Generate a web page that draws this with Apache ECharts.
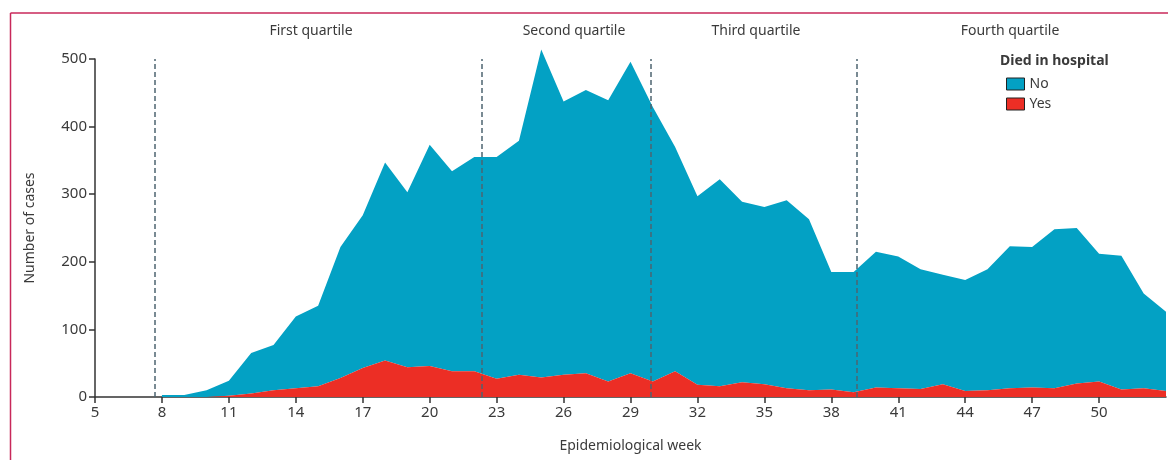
<!DOCTYPE html>
<html>
<head>
<meta charset="utf-8">
<script src="https://cdn.jsdelivr.net/npm/echarts@6/dist/echarts.min.js"></script>
<style>
  html,body{margin:0;padding:0;background:#fff;}
  #chart{width:1168px;height:460px;}
</style>
</head>
<body>
<div id="chart"></div>
<script>
// axis weeks (5..53) and the weeks that have data
let axisWeeks=[5,6,7,8,9,10,11,12,13,14,15,16,17,18,19,20,21,22,23,24,25,26,27,28,29,30,31,32,33,34,35,36,37,38,39,40,41,42,43,44,45,46,47,48,49,50,51,52,53];
let weeks=[8,9,10,11,12,13,14,15,16,17,18,19,20,21,22,23,24,25,26,27,28,29,30,31,32,33,34,35,36,37,38,39,40,41,42,43,44,45,46,47,48,49,50,51,52,53];
// died in hospital: yes
let diedYes=[0,0,0,2,5,10,13,16,28,43,54,44,46,38,38,27,33,29,33,35,23,35,23,38,18,16,22,19,13,10,11,7,14,13,12,19,9,10,13,14,13,20,23,11,13,9];
// died in hospital: no (stacked on top of yes)
let diedNo=[3,3,10,22,60,67,106,119,194,226,293,259,327,296,317,328,346,485,404,419,416,461,406,332,279,306,267,262,278,253,174,178,201,195,177,162,164,179,210,208,235,230,189,198,140,117];
let xTicks=[5,8,11,14,17,20,23,26,29,32,35,38,41,44,47,50];
// quartile cut-offs (in weeks)
let cutWeeks=[7.7,22.33,29.9,39.12];
let quartileNames=['First quartile','Second quartile','Third quartile','Fourth quartile'];

let font='"Noto Sans", sans-serif';
let textColor='#3a3a3a';

let myChart=echarts.init(document.getElementById('chart'));

let pairs=function(vals){
    return weeks.map((w,i)=>[String(w),vals[i]]);
};
let showTick=function(idx){
    return xTicks.indexOf(axisWeeks[idx])>=0;
};

let quartileX=[311,574,756,1010];
let graphics=[
    {type:'line',shape:{x1:10.5,y1:13,x2:1168,y2:13},style:{stroke:'#c8285a',lineWidth:1.5}},
    {type:'line',shape:{x1:10.5,y1:13,x2:10.5,y2:460},style:{stroke:'#c8285a',lineWidth:1.5}},
    {type:'text',left:1000,top:54,style:{text:'Died in hospital',font:'bold 14px '+font,fill:textColor}}
];
quartileNames.forEach((n,i)=>{
    graphics.push({type:'text',x:quartileX[i],y:31,style:{text:n,font:'14px '+font,fill:textColor,textAlign:'center',textVerticalAlign:'middle'}});
});

let option={
    animation:false,
    backgroundColor:'#fff',
    textStyle:{fontFamily:font},
    grid:{left:95,right:2,top:59,bottom:63,containLabel:false},
    legend:{
        orient:'vertical',
        left:1001,
        top:72,
        icon:'rect',
        itemWidth:18,
        itemHeight:12,
        itemGap:6,
        data:['No','Yes'],
        textStyle:{fontSize:14,color:textColor,fontFamily:font},
        itemStyle:{borderColor:'#222',borderWidth:1}
    },
    graphic:graphics,
    xAxis:[{
        type:'category',
        data:axisWeeks.map(String),
        boundaryGap:false,
        name:'Epidemiological week',
        nameLocation:'middle',
        nameGap:42,
        nameTextStyle:{fontSize:14,color:textColor},
        axisLine:{show:true,lineStyle:{color:'#333',width:1.5}},
        axisTick:{show:true,length:6,lineStyle:{color:'#333',width:1.5},interval:showTick},
        axisLabel:{fontSize:15,color:textColor,margin:8,interval:showTick},
        splitLine:{show:false}
    },{
        // hidden value axis used to place the quartile cut-off lines
        type:'value',
        min:5,max:53,
        show:false
    }],
    yAxis:{
        type:'value',
        min:0,max:500,interval:100,
        name:'Number of cases',
        nameLocation:'middle',
        nameGap:58,
        nameTextStyle:{fontSize:14,color:textColor},
        axisLine:{show:true,lineStyle:{color:'#333',width:1.5}},
        axisTick:{show:true,length:6,lineStyle:{color:'#333',width:1.5}},
        axisLabel:{fontSize:15,color:textColor,margin:8},
        splitLine:{show:false}
    },
    series:[
        {
            name:'Yes',
            type:'line',
            stack:'total',
            data:pairs(diedYes),
            symbol:'none',
            clip:false,
            lineStyle:{width:0},
            areaStyle:{color:'#ec2e25',opacity:1},
            itemStyle:{color:'#ec2e25',borderColor:'#222',borderWidth:1},
            z:3
        },
        {
            name:'No',
            type:'line',
            stack:'total',
            data:pairs(diedNo),
            symbol:'none',
            clip:false,
            lineStyle:{width:0},
            areaStyle:{color:'#03a1c4',opacity:1},
            itemStyle:{color:'#03a1c4',borderColor:'#222',borderWidth:1},
            z:2
        },
        {
            name:'cutoffs',
            type:'line',
            xAxisIndex:1,
            data:[],
            z:4,
            markLine:{
                silent:true,
                symbol:'none',
                label:{show:false},
                lineStyle:{color:'#4d6470',type:[5,3],width:1.5},
                data:cutWeeks.map(w=>({xAxis:w}))
            }
        }
    ]
};
myChart.setOption(option);
</script>
</body>
</html>
